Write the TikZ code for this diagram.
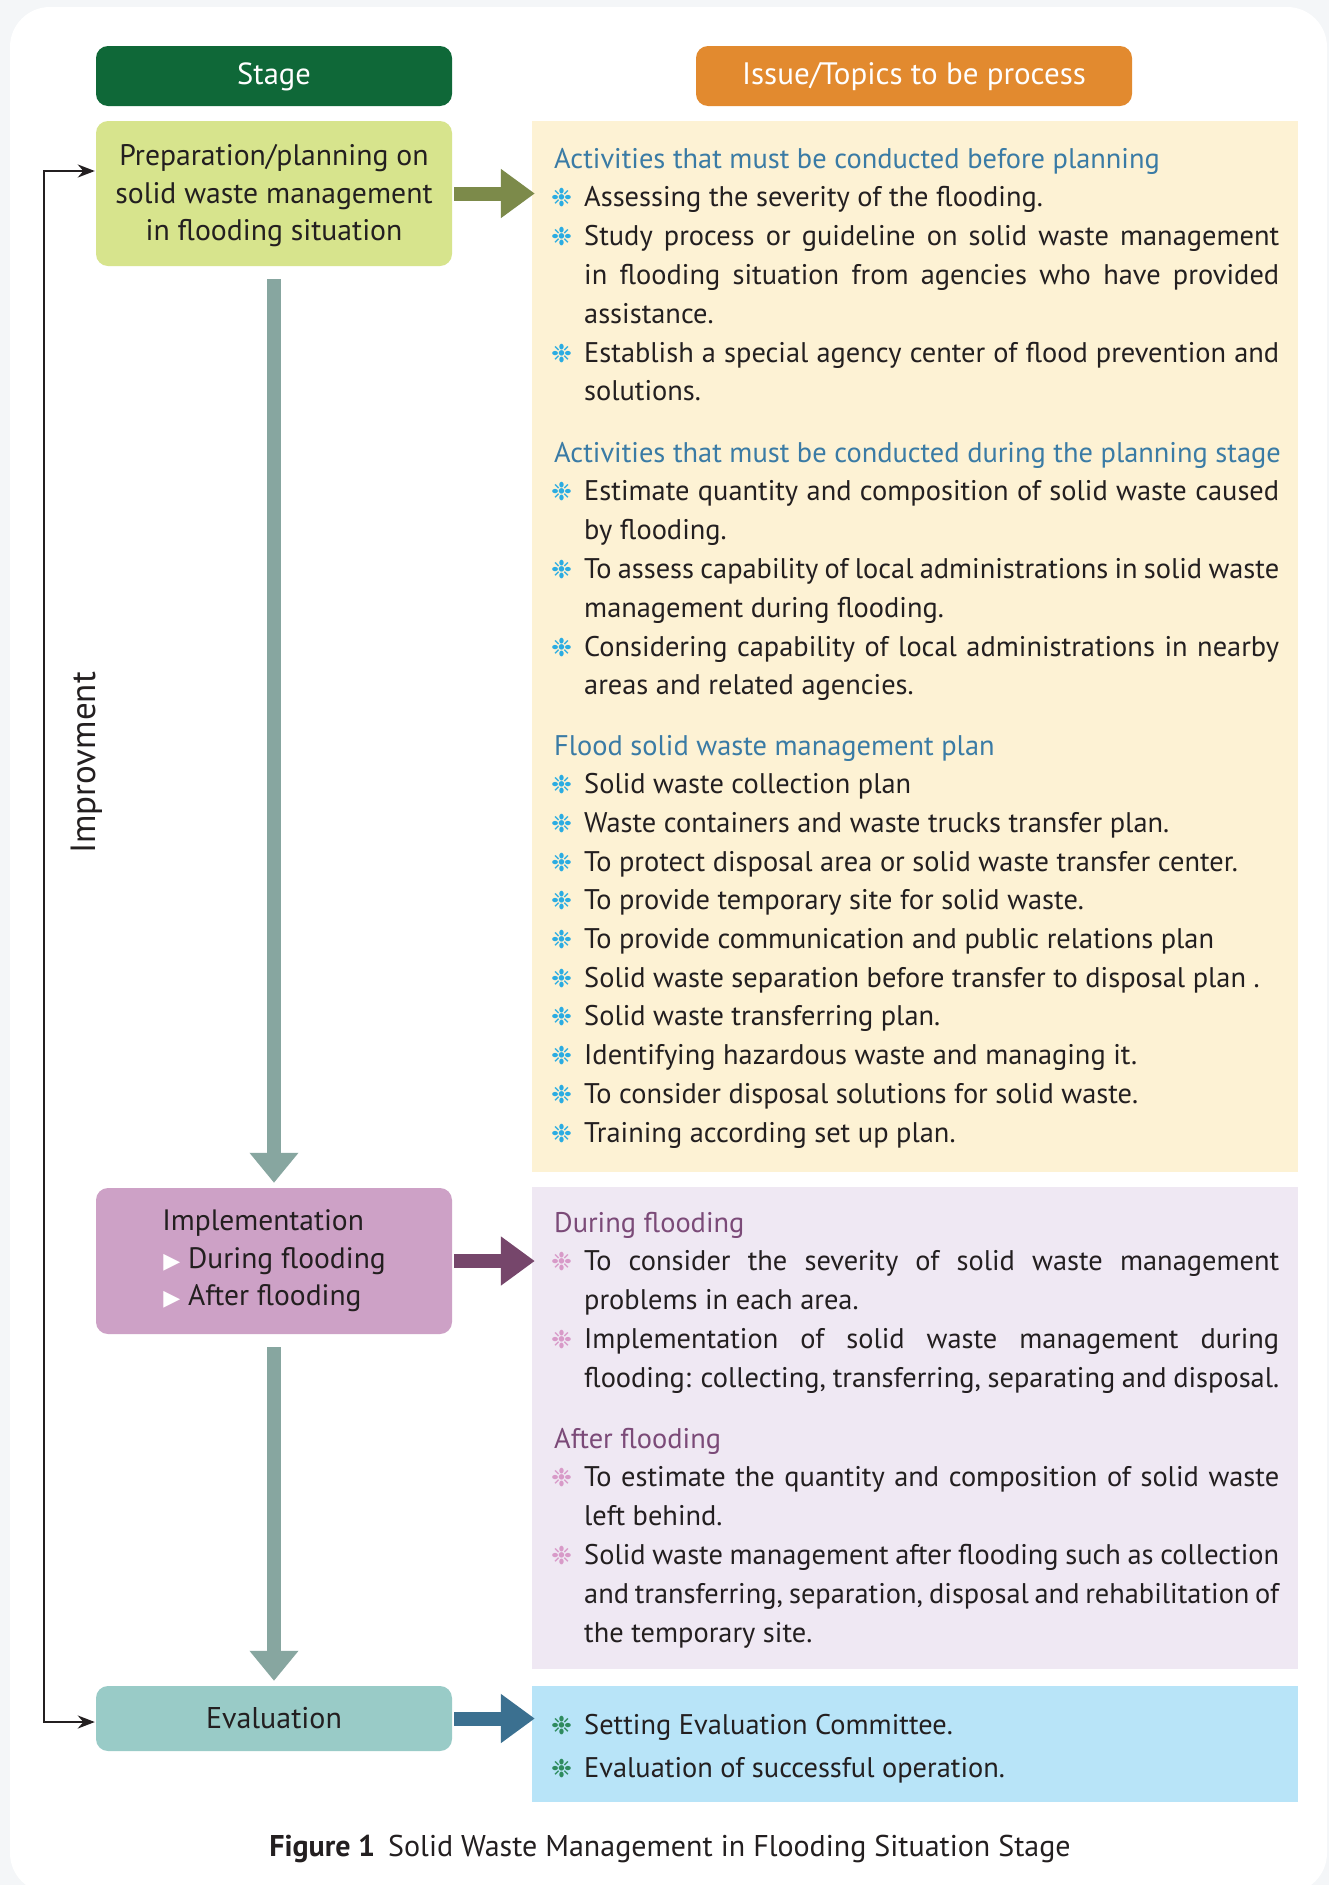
\documentclass[tikz,border=0pt]{standalone}
\usepackage{fontspec}
\setmainfont{PT Sans}
\newfontfamily\symfont{DejaVu Sans}
\usetikzlibrary{arrows.meta}
\definecolor{bggray}{HTML}{F4F6F8}
\definecolor{stagegreen}{HTML}{0F6838}
\definecolor{issueorange}{HTML}{E28A2F}
\definecolor{prepfill}{HTML}{D7E48D}
\definecolor{yellowpanel}{HTML}{FDF2D4}
\definecolor{olivearrow}{HTML}{7C8A4A}
\definecolor{tealarrow}{HTML}{87A6A0}
\definecolor{implfill}{HTML}{CDA1C6}
\definecolor{purplepanel}{HTML}{EFE8F3}
\definecolor{purplearrow}{HTML}{76466B}
\definecolor{evalfill}{HTML}{99CBC7}
\definecolor{bluepanel}{HTML}{B8E4F8}
\definecolor{bluearrow}{HTML}{3B7090}
\definecolor{headblue}{HTML}{3A7BA5}
\definecolor{headpurple}{HTML}{7B4A78}
\definecolor{textdark}{HTML}{231F20}
\definecolor{bulcyan}{HTML}{2AACE2}
\definecolor{bulpink}{HTML}{D89AC8}
\definecolor{bulgreen}{HTML}{2E8B5E}
\newcommand\BulMark[1]{\hbox to 30pt{\hskip-3pt\raisebox{0pt}{\symfont\color{#1}\fontsize{25}{25}\selectfont ❉}\hss}}
\newcommand\JL[1]{\hbox to 695pt{#1}}
\newcommand\NL[1]{\hbox{#1}}
\newcommand\BI[2]{\hbox{\BulMark{#1}#2}}
\newcommand\CL[1]{\hbox{\hskip30pt #1}}
\newcommand\HD[2]{\hbox{\color{#1}#2}}
\newcommand\Sect[2]{\vtop{\fontsize{28.4}{#1}\selectfont\baselineskip=#1pt\lineskiplimit=-100pt\lineskip=0pt #2}}
\newcommand\Tri{{\color{white}\symfont\fontsize{22}{22}\selectfont ▶}}
\begin{document}
\begin{tikzpicture}[x=1pt,y=-1pt,
  hdrbox/.style={rounded corners=12pt, minimum height=60pt, inner sep=0pt, text=white, text height=22pt, text depth=5pt},
  stagebox/.style={rounded corners=12pt, minimum width=356pt, inner sep=0pt, text=textdark, align=center},
  panel/.style={minimum width=766pt, inner sep=0pt, draw=none},
  sect/.style={anchor=base west, inner sep=0pt, text=textdark},
  fatarrow/.style={line width=14pt, -{Triangle[length=34pt,width=47pt]}},
  downarrow/.style={line width=14pt, tealarrow, -{Triangle[length=30pt,width=47pt]}},
  fbline/.style={line width=2.4pt, textdark, {Stealth[length=17pt,width=13pt]}-{Stealth[length=17pt,width=13pt]}}
]
\useasboundingbox (0,0) rectangle (1329,1885);
\fill[bggray] (0,0) rectangle (1329,1885);
\fill[white, rounded corners=40pt] (10,7) rectangle (1327,1893);

% headers
\node[hdrbox, fill=stagegreen, minimum width=356pt, font=\fontsize{30.5}{34}\selectfont] (stage) at (274,76) {Stage};
\node[hdrbox, fill=issueorange, minimum width=436pt, font=\fontsize{31}{34}\selectfont] (issue) at (914,76) {Issue/Topics to be process};

% stage boxes
\node[stagebox, fill=prepfill, minimum height=145pt, font=\fontsize{29.7}{37.5}\selectfont] (prep) at (274,193.5)
  {\rule{0pt}{26pt}Preparation/planning on\\solid waste management\\in flooding situation};
\node[stagebox, fill=implfill, minimum height=146pt, align=left, font=\fontsize{29.5}{37.5}\selectfont] (impl) at (274,1261)
  {Implementation\\\hskip1pt\Tri\hskip8pt During flooding\\\hskip1pt\Tri\hskip8pt After flooding};
\node[stagebox, fill=evalfill, minimum height=65pt, font=\fontsize{30}{34}\selectfont] (eval) at (274,1718.5) {Evaluation};

% panels
\node[panel, fill=yellowpanel, minimum height=1051pt] (pnlA) at (915,646.5) {};
\node[panel, fill=purplepanel, minimum height=482pt] (pnlB) at (915,1428) {};
\node[panel, fill=bluepanel, minimum height=116pt] (pnlC) at (915,1744) {};

% panel texts
\node[sect] (secA) at (554,168) {\Sect{38.8}{%
  \HD{headblue}{Activities that must be conducted before planning}
  \BI{bulcyan}{\NL{Assessing the severity of the flooding.}}
  \BI{bulcyan}{\JL{Study process or guideline on solid waste management}}
  \CL{\JL{in flooding situation from agencies who have provided}}
  \CL{\NL{assistance.}}
  \BI{bulcyan}{\JL{Establish a special agency center of flood prevention and}}
  \CL{\NL{solutions.}}}};
\node[sect] (secB) at (554,462) {\Sect{38.8}{%
  \HD{headblue}{Activities that must be conducted during the planning stage}
  \BI{bulcyan}{\JL{Estimate quantity and composition of solid waste caused}}
  \CL{\NL{by flooding.}}
  \BI{bulcyan}{\JL{To assess capability of local administrations in solid waste}}
  \CL{\NL{management during flooding.}}
  \BI{bulcyan}{\JL{Considering capability of local administrations in nearby}}
  \CL{\NL{areas and related agencies.}}}};
\node[sect] (secC) at (554,755) {\Sect{38.7}{%
  \HD{headblue}{Flood solid waste management plan}
  \BI{bulcyan}{\NL{Solid waste collection plan}}
  \BI{bulcyan}{\NL{Waste containers and waste trucks transfer plan.}}
  \BI{bulcyan}{\NL{To protect disposal area or solid waste transfer center.}}
  \BI{bulcyan}{\NL{To provide temporary site for solid waste.}}
  \BI{bulcyan}{\NL{To provide communication and public relations plan}}
  \BI{bulcyan}{\NL{Solid waste separation before transfer to disposal plan .}}
  \BI{bulcyan}{\NL{Solid waste transferring plan.}}
  \BI{bulcyan}{\NL{Identifying hazardous waste and managing it.}}
  \BI{bulcyan}{\NL{To consider disposal solutions for solid waste.}}
  \BI{bulcyan}{\NL{Training according set up plan.}}}};
\node[sect] (secD) at (554,1232) {\Sect{38.8}{%
  \HD{headpurple}{During flooding}
  \BI{bulpink}{\JL{To consider the severity of solid waste management}}
  \CL{\NL{problems in each area.}}
  \BI{bulpink}{\JL{Implementation of solid waste management during}}
  \CL{\JL{flooding: collecting, transferring, separating and disposal.}}}};
\node[sect] (secE) at (554,1448) {\Sect{38.8}{%
  \HD{headpurple}{After flooding}
  \BI{bulpink}{\JL{To estimate the quantity and composition of solid waste}}
  \CL{\NL{left behind.}}
  \BI{bulpink}{\JL{Solid waste management after flooding such as collection}}
  \CL{\JL{and transferring, separation, disposal and rehabilitation of}}
  \CL{\NL{the temporary site.}}}};
\node[sect] (secF) at (554,1734) {\Sect{43.5}{%
  \BI{bulgreen}{\NL{Setting Evaluation Committee.}}
  \BI{bulgreen}{\NL{Evaluation of successful operation.}}}};

% fat arrows to panels
\draw[fatarrow, olivearrow] ([xshift=2pt]prep.east) -- ([xshift=3pt]prep.east -| pnlA.west);
\draw[fatarrow, purplearrow] ([xshift=2pt]impl.east) -- ([xshift=3pt]impl.east -| pnlB.west);
\draw[fatarrow, bluearrow] ([xshift=2pt]eval.east) -- ([xshift=3pt]eval.east -| pnlC.west);

% down arrows
\draw[downarrow] ([yshift=-13pt]prep.south) -- ([yshift=5pt]impl.north);
\draw[downarrow] ([yshift=-13pt]impl.south) -- ([yshift=5pt]eval.north);

% feedback loop
\coordinate (fbtop) at (44,171);
\coordinate (fbbot) at (44,1722);
\draw[fbline] ([xshift=-1pt]prep.west |- fbtop) -- (fbtop) -- (fbbot) -- ([xshift=-1pt]eval.west |- fbbot);
\node[rotate=90, text=textdark, font=\fontsize{35}{35}\selectfont, inner sep=0pt] (impr) at (87,763) {Improvment};

% caption
\node[text=textdark, font=\fontsize{30}{34}\selectfont, inner sep=0pt] (cap) at (670,1849) {\textbf{Figure 1}\hskip13pt Solid Waste Management in Flooding Situation Stage};
\end{tikzpicture}
\end{document}
